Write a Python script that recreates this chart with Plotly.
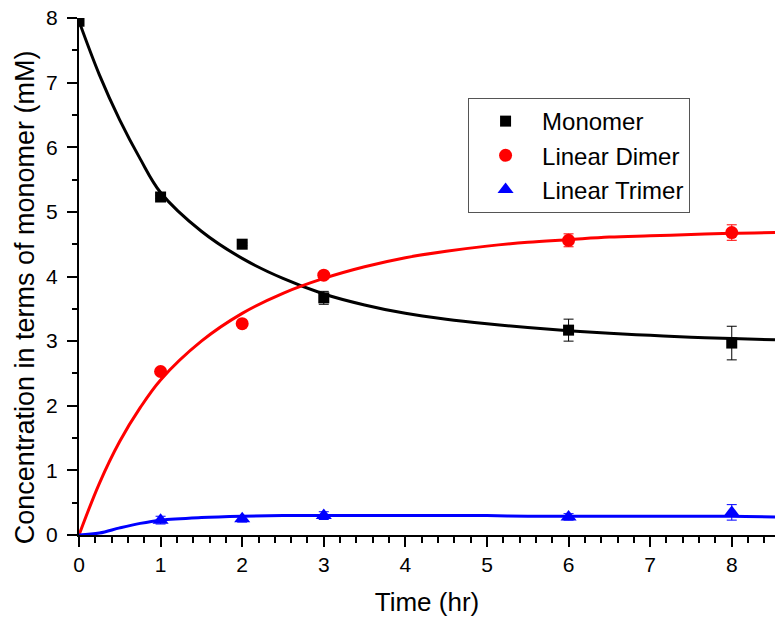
import plotly.graph_objects as go

# measured data
t_obs = [0, 1, 2, 3, 6, 8]
monomer = [7.95, 5.23, 4.50, 3.67, 3.17, 2.97]
monomer_err = [0, 0.02, 0.02, 0.10, 0.17, 0.26]
dimer = [2.53, 3.27, 4.02, 4.56, 4.68]
dimer_err = [0.02, 0.02, 0.03, 0.10, 0.12]
trimer = [0.23, 0.25, 0.30, 0.28, 0.35]
trimer_err = [0.06, 0.05, 0.06, 0.05, 0.12]
t_obs2 = [1, 2, 3, 6, 8]

# fitted curves
t_fit = [0, 0.25, 0.5, 0.75, 1, 1.5, 2, 2.5, 3, 3.5, 4, 4.5, 5, 5.5, 6, 6.5, 7, 7.5, 8, 8.53]
monomer_fit = [7.95, 7.12, 6.42, 5.82, 5.30, 4.70, 4.28, 3.97, 3.73, 3.56, 3.43, 3.34, 3.27, 3.21, 3.16, 3.12, 3.09, 3.06, 3.04, 3.02]
dimer_fit = [0.0, 0.80, 1.45, 1.97, 2.40, 3.00, 3.43, 3.74, 3.97, 4.15, 4.29, 4.39, 4.47, 4.53, 4.57, 4.61, 4.63, 4.65, 4.67, 4.68]
trimer_fit = [0.0, 0.03, 0.11, 0.18, 0.23, 0.27, 0.29, 0.30, 0.30, 0.30, 0.30, 0.30, 0.30, 0.29, 0.29, 0.29, 0.29, 0.29, 0.29, 0.28]

fig = go.Figure()
font = "Liberation Sans, Arial, sans-serif"

for y, c in [(monomer_fit, "black"), (dimer_fit, "red"), (trimer_fit, "blue")]:
    fig.add_trace(go.Scatter(x=t_fit, y=y, mode="lines",
                             line=dict(color=c, width=3, shape="spline", smoothing=1),
                             showlegend=False, hoverinfo="skip"))

fig.add_trace(go.Scatter(x=t_obs, y=monomer, mode="markers", name="Monomer",
                         marker=dict(symbol="square", size=11, color="black"),
                         error_y=dict(type="data", array=monomer_err, color="black", thickness=1, width=5)))
fig.add_trace(go.Scatter(x=t_obs2, y=dimer, mode="markers", name="Linear Dimer",
                         marker=dict(symbol="circle", size=13, color="red"),
                         error_y=dict(type="data", array=dimer_err, color="red", thickness=1, width=5)))
fig.add_trace(go.Scatter(x=t_obs2, y=trimer, mode="markers", name="Linear Trimer",
                         marker=dict(symbol="triangle-up", size=14, color="blue"),
                         error_y=dict(type="data", array=trimer_err, color="blue", thickness=1, width=5)))

fig.update_layout(
    width=775, height=617,
    margin=dict(l=79, r=0, t=18, b=82),
    paper_bgcolor="white", plot_bgcolor="white",
    font=dict(family=font, size=20, color="black"),
    legend=dict(x=0.559, y=0.734, xanchor="left", yanchor="middle",
                bordercolor="#555", borderwidth=1, bgcolor="white",
                font=dict(size=24, family=font), itemwidth=63),
    annotations=[dict(text="Concentration in terms of monomer (mM)", textangle=-90,
                      xref="paper", yref="paper", x=(25 - 79) / 696, y=0.46,
                      xanchor="center", yanchor="middle",
                      showarrow=False, font=dict(size=27, family=font))],
)
fig.update_xaxes(range=[0, 8.53], tickmode="linear", tick0=0, dtick=1,
                 ticks="outside", ticklen=10, tickwidth=2, tickcolor="black",
                 showline=True, linewidth=2, linecolor="black", showgrid=False, zeroline=False,
                 minor=dict(dtick=0.2, ticks="outside", ticklen=6, tickwidth=2, tickcolor="black"),
                 title=dict(text="Time (hr)", font=dict(size=26, family=font), standoff=20),
                 tickfont=dict(size=21))
fig.update_yaxes(range=[0, 8], tickmode="linear", tick0=0, dtick=1,
                 ticks="outside", ticklen=10, tickwidth=2, tickcolor="black",
                 showline=True, linewidth=2, linecolor="black", showgrid=False, zeroline=False,
                 minor=dict(dtick=0.5, ticks="outside", ticklen=5, tickwidth=2, tickcolor="black"),
                 ticklabelstandoff=5,
                 tickfont=dict(size=21))

fig.write_html("out.html")
